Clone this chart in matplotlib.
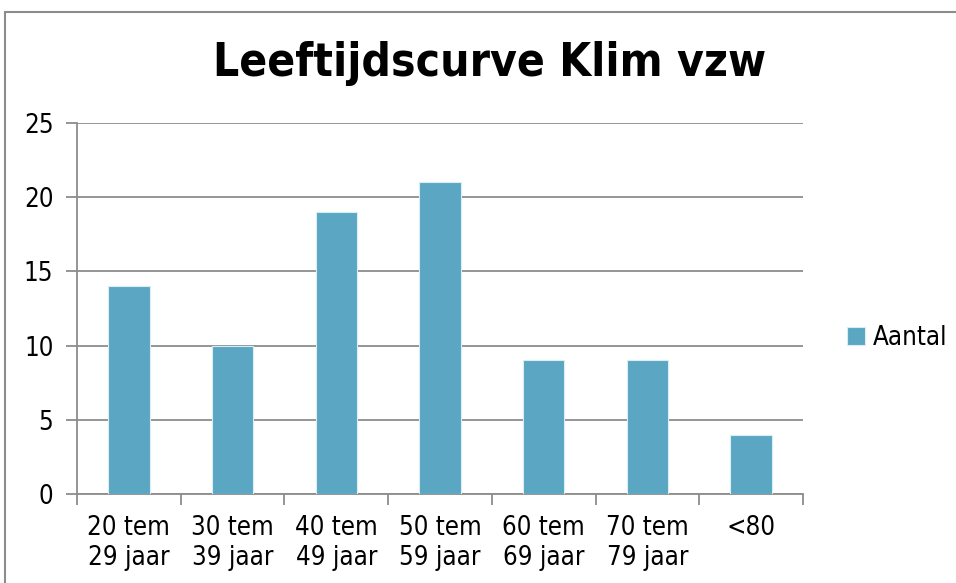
import matplotlib.pyplot as plt
from matplotlib.patches import Rectangle
from matplotlib import font_manager as fm

categories = ["20 tem\n29 jaar", "30 tem\n39 jaar", "40 tem\n49 jaar", "50 tem\n59 jaar",
              "60 tem\n69 jaar", "70 tem\n79 jaar", "<80"]
aantal = [14, 10, 19, 21, 9, 9, 4]
yticks = [0, 5, 10, 15, 20, 25]

names = {f.name for f in fm.fontManager.ttflist}
fam = "Liberation Sans Narrow" if "Liberation Sans Narrow" in names else "DejaVu Sans"
plt.rcParams['font.family'] = [fam, 'DejaVu Sans']
plt.rcParams['font.stretch'] = 'condensed'

W, H = 956, 583
fig = plt.figure(figsize=(W / 100, H / 100), dpi=100)
ax = fig.add_axes([77 / W, 1 - 494 / H, (803 - 77) / W, (494 - 123) / H])

# chart frame
fig.patches.append(Rectangle((5 / W, -0.1), 1.2, 1 - 12 / H + 0.1, transform=fig.transFigure,
                             fill=False, edgecolor="#8c8c8c", linewidth=1.5))

x = range(len(aantal))
ax.bar(x, aantal, width=0.4, color="#5ba6c2", edgecolor="#d8eef5", linewidth=0.8,
       label="Aantal", zorder=3)
ax.set_xlim(-0.5, len(aantal) - 0.5)
ax.set_ylim(0, 25)
ax.set_yticks(yticks)
ax.yaxis.grid(True, color="#8c8c8c", linewidth=1.3)
ax.set_axisbelow(True)
for s in ["top", "right"]:
    ax.spines[s].set_visible(False)
for s in ["left", "bottom"]:
    ax.spines[s].set_color("#8c8c8c")
    ax.spines[s].set_linewidth(1.3)

ax.set_xticks([i + 0.5 for i in range(-1, len(aantal))])
ax.set_xticklabels([])
ax.set_xticks(list(x), minor=True)
ax.set_xticklabels(categories, minor=True, fontsize=18.5, linespacing=1.2)
ax.tick_params(axis="x", which="minor", length=0, pad=15)
ax.tick_params(axis="x", which="major", length=8, color="#8c8c8c", width=1.3)
ax.tick_params(axis="y", length=8, color="#8c8c8c", width=1.3, labelsize=18.5, pad=9)
for lbl in ax.get_xticklabels(minor=True):
    lbl.set_verticalalignment("top")

fig.text(490 / W, 1 - 64 / H, "Leeftijdscurve Klim vzw", ha="center", va="center",
         fontsize=33, fontweight="bold")

fig.legend(loc="center left", bbox_to_anchor=(824 / W, 1 - 338 / H), frameon=False,
           fontsize=18.5, handlelength=0.7, handleheight=0.7, handletextpad=0.3)

fig.savefig("out.png", dpi=100)
